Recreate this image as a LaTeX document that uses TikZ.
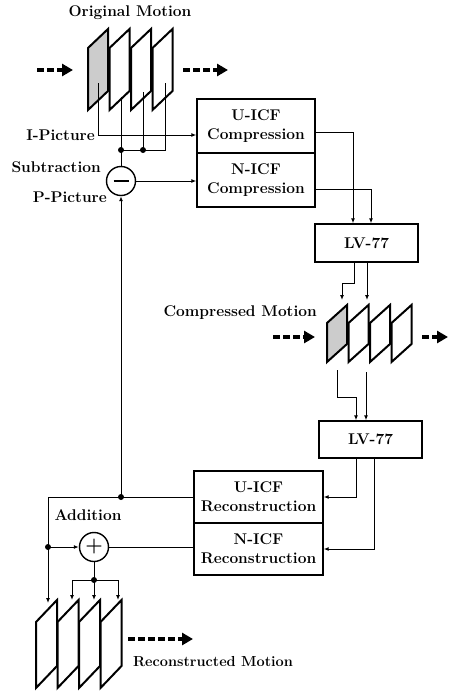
\documentclass[tikz,border=0pt]{standalone}
\usepackage{fontspec}
\usetikzlibrary{arrows.meta}
\tikzset{
  block/.style={draw,line width=1.4pt,fill=white,align=center},
  conn/.style={line width=1pt},
  tip/.style={conn,-{Latex[length=5pt,width=4pt]}},
  flow/.style={line width=4pt,dash pattern=on 7pt off 3pt,-{Triangle[length=11pt,width=12pt]}},
  frame/.style={line width=2pt,line join=miter},
  joint/.style={circle,fill,inner sep=0pt,minimum size=6pt},
  op/.style={draw,circle,line width=1.4pt,minimum size=29pt,inner sep=0pt}
}
% bottom left corner, width, skew, height, fill
\newcommand{\motionframe}[6]{%
  \filldraw[frame,fill=#6] (#1,#2) -- ++(0,-#5) -- ++(#3,-#4) -- ++(0,#5) -- cycle;}
\begin{document}
\begin{tikzpicture}[x=1pt,y=-1pt,inner sep=1pt,font=\fontsize{15.5}{19}\selectfont\bfseries]
\useasboundingbox (0,0) rectangle (449,691);

% original motion
\node (orig) at (130,13) {Original Motion};
\coordinate (oin) at (37,70);
\coordinate (oout) at (183,70);
\draw[flow] (oin) -- ++(36,0);
\draw[flow] (oout) -- ++(45,0);
\motionframe{88}{110}{20}{19}{62}{gray!40}
\motionframe{109.5}{110}{20}{19}{62}{white}
\motionframe{131}{110}{20}{19}{62}{white}
\motionframe{152.5}{110}{20}{19}{62}{white}

\coordinate (o1) at (98,83);
\coordinate (o2) at (121,97);
\coordinate (o3) at (143,92);
\coordinate (o4) at (165,83);
\coordinate (j1) at (121,150);
\coordinate (j2) at (143,150);

\node[op] (sub) at (121,181) {\rule{15pt}{2.5pt}};
\node[block,minimum width=118pt,minimum height=54pt] (ucomp) at (256,126) {U-ICF\\Compression};
\node[block,minimum width=118pt,minimum height=54pt] (ncomp) at (256,180) {N-ICF\\Compression};

\draw[conn] (o2) -- (sub);
\draw[conn] (o3) -- (j2);
\draw[conn] (o4) |- (j1);
\node[joint] at (j1) {};
\node[joint] at (j2) {};
\draw[tip] (o1) |- ([yshift=-9pt]ucomp.west);
\draw[tip] (sub) -- (sub -| ncomp.west);

\node[anchor=east] (ilab) at (96,135) {I-Picture};
\node[anchor=east] (slab) at (102,167) {Subtraction};
\node[anchor=east] (plab) at (108,197) {P-Picture};

% compressed motion
\node[block,minimum width=103pt,minimum height=38pt] (lvc) at (366.5,243) {LV-77};
\draw[tip] ([yshift=-6pt]ucomp.east) -| ([xshift=-13.5pt]lvc.north);
\draw[tip] ([yshift=-9pt]ncomp.east) -| ([xshift=4.5pt]lvc.north);

\motionframe{327}{362}{20}{18}{39}{gray!40}
\motionframe{348.5}{362}{20}{18}{39}{white}
\motionframe{370}{362}{20}{18}{39}{white}
\motionframe{391.5}{362}{20}{18}{39}{white}
\coordinate (cin) at (273,337);
\coordinate (cout) at (422,337);
\draw[flow] (cin) -- ++(42,0);
\draw[flow] (cout) -- ++(26,0);
\node[anchor=east] (cmlab) at (318,313) {Compressed Motion};

\coordinate (c1) at (342,300);
\coordinate (c2) at (367,300);
\draw[tip] ([xshift=-12.5pt]lvc.south) -- ++(0,21) -| (c1);
\draw[tip] (lvc.south -| c2) -- (c2);

\node[block,minimum width=103pt,minimum height=37pt] (lvr) at (370.5,439.5) {LV-77};
\coordinate (d1) at (337,370);
\coordinate (d2) at (366,372);
\draw[tip] (d1) -- ++(0,27) -| ([xshift=-14.5pt]lvr.north);
\draw[tip] (d2) -- (d2 |- lvr.north);

% reconstruction
\node[block,minimum width=129pt,minimum height=52pt] (urec) at (258.5,497) {U-ICF\\Reconstruction};
\node[block,minimum width=129pt,minimum height=52pt] (nrec) at (258.5,549) {N-ICF\\Reconstruction};
\draw[tip] ([xshift=-14.5pt]lvr.south) |- (urec.east);
\draw[tip] ([xshift=3.5pt]lvr.south) |- (nrec.east);

\coordinate (fb) at (121,497);
\coordinate (tl) at (48,497);
\coordinate (r0) at (48,603);
\draw[tip] (urec.west) -- (tl) -- (r0);
\draw[tip] (fb) -- (sub);
\node[joint] at (fb) {};

\node[op,font=\fontsize{20}{20}\selectfont\bfseries] (add) at (94,547) {+};
\node (alab) at (88,515) {Addition};
\coordinate (ja) at (48,547);
\draw[tip] (ja) -- (add);
\node[joint] at (ja) {};
\draw[conn] (add) -- (add -| nrec.west);
\coordinate (jb) at (94,580);
\draw[conn] (add) -- (jb);
\node[joint] at (jb) {};
\draw[tip] (jb) -- ++(0,20);
\draw[tip] (jb) -- ++(-22,0) -- ++(0,20);
\draw[tip] (jb) -- ++(24,0) -- ++(0,20);

\motionframe{36}{688}{21}{22}{66}{white}
\motionframe{57.5}{688}{21}{22}{66}{white}
\motionframe{79}{688}{21}{22}{66}{white}
\motionframe{100.5}{688}{21}{22}{66}{white}
\coordinate (rout) at (128,639);
\draw[flow] (rout) -- ++(65,0);
\node[font=\fontsize{14.5}{18}\selectfont\bfseries] (rmlab) at (213,662) {Reconstructed Motion};
\end{tikzpicture}
\end{document}
